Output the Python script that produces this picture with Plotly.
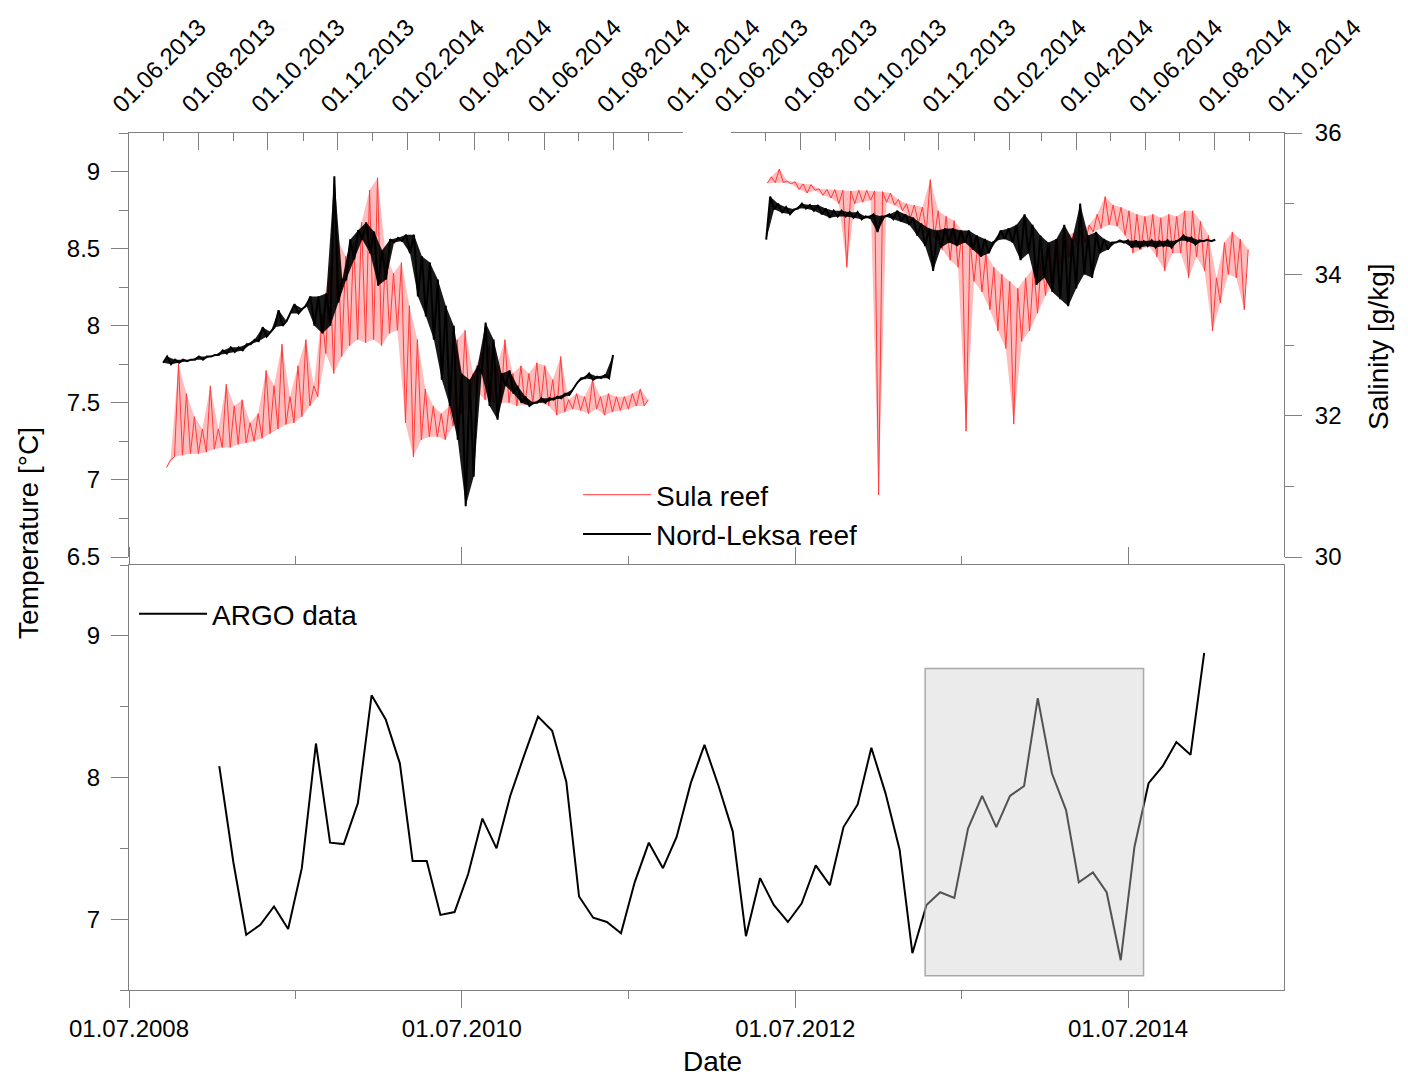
import pandas as pd
import plotly.graph_objects as go

# ---------------- DATA ----------------
# Top panels: weekly low / high envelope of the logger records
SULA_T_START = "2013-07-04"
SULA_T_LO = [7.08,7.15,7.16,7.17,7.17,7.18,7.20,7.21,7.21,7.23,
             7.24,7.25,7.27,7.30,7.33,7.36,7.37,7.41,7.48,7.54,
             7.82,7.69,7.80,7.87,7.91,7.89,7.91,7.87,7.95,7.97,
             7.37,7.15,7.26,7.28,7.28,7.26,7.35,7.43,7.48,7.57,
             7.52,7.50,7.50,7.50,7.48,7.49,7.50,7.50,7.48,7.42,
             7.44,7.46,7.45,7.43,7.46,7.42,7.44,7.45,7.46,7.48,7.48]
SULA_T_HI = [7.13,7.75,7.56,7.41,7.33,7.61,7.33,7.62,7.48,7.52,
             7.37,7.43,7.71,7.61,7.88,7.54,7.74,7.91,7.61,8.08,
             8.39,8.56,8.45,8.54,8.67,8.88,8.96,8.47,8.34,8.41,
             8.13,7.91,7.59,7.48,7.43,7.48,7.91,7.97,7.69,7.82,
             7.87,7.74,7.91,7.69,7.74,7.69,7.76,7.74,7.65,7.80,
             7.52,7.56,7.54,7.65,7.54,7.56,7.54,7.54,7.56,7.59,7.52]

NORD_T_START = "2013-07-01"
NORD_T_LO = [7.76,7.75,7.76,7.77,7.78,7.78,7.80,7.81,7.82,7.83,
             7.84,7.88,7.90,7.93,7.99,8.00,8.08,8.08,8.13,8.00,
             7.95,8.00,8.15,8.30,8.43,8.56,8.47,8.26,8.30,8.54,
             8.55,8.47,8.19,8.06,7.91,7.65,7.48,7.26,6.83,7.02,
             7.69,7.48,7.39,7.61,7.56,7.50,7.48,7.50,7.50,7.52,
             7.53,7.55,7.63,7.66,7.65,7.66,7.66]
NORD_T_HI = [7.80,7.78,7.78,7.78,7.80,7.80,7.81,7.84,7.86,7.86,
             7.88,7.91,7.99,7.96,8.10,8.03,8.14,8.11,8.19,8.19,
             8.21,8.97,8.30,8.56,8.62,8.67,8.61,8.49,8.56,8.57,
             8.59,8.59,8.45,8.41,8.30,8.13,8.00,7.69,7.65,7.74,
             8.02,7.91,7.69,7.71,7.61,7.54,7.50,7.53,7.53,7.54,
             7.56,7.59,7.66,7.69,7.67,7.68,7.81]

SULA_S_START = "2013-07-03"
SULA_S_LO = [35.29,35.30,35.30,35.28,35.20,35.15,35.19,35.12,35.08,35.00,
             34.10,35.00,35.02,35.05,30.88,35.02,34.98,34.90,34.80,34.72,
             34.60,34.52,34.35,34.20,34.10,31.78,33.90,33.75,33.50,33.20,
             32.95,31.88,33.05,33.20,33.45,33.70,33.85,34.10,34.25,34.40,
             34.45,34.60,34.65,34.70,34.68,34.55,34.30,34.35,34.40,34.25,
             34.05,34.30,34.30,33.95,34.25,34.05,33.20,33.60,34.00,33.95,33.50]
SULA_S_HI = [35.38,35.49,35.32,35.31,35.28,35.27,35.21,35.20,35.20,35.19,
             35.18,35.19,35.19,35.18,35.17,35.15,35.06,35.00,34.98,34.95,
             35.34,34.90,34.82,34.76,34.62,34.48,34.45,34.30,34.10,34.00,
             33.90,33.80,33.95,34.10,34.25,34.40,34.50,34.56,34.58,34.62,
             34.70,34.85,35.10,34.98,34.95,34.90,34.85,34.82,34.85,34.80,
             34.85,34.82,34.90,34.90,34.75,34.55,33.95,34.45,34.60,34.50,34.35]

NORD_S_START = "2013-07-02"
NORD_S_LO = [34.49,34.92,34.87,34.85,34.93,34.93,34.90,34.85,34.80,34.82,
             34.82,34.80,34.78,34.80,34.60,34.82,34.78,34.75,34.70,34.55,
             34.40,34.05,34.38,34.45,34.40,34.45,34.35,34.25,34.30,34.48,
             34.50,34.45,34.20,34.30,33.85,33.95,33.75,33.65,33.55,33.80,
             34.00,33.95,34.30,34.35,34.45,34.45,34.38,34.38,34.40,34.38,
             34.40,34.38,34.48,34.47,34.42,34.47,34.47]
NORD_S_HI = [35.10,35.00,34.95,34.92,35.00,34.98,34.98,34.93,34.90,34.90,
             34.88,34.88,34.82,34.85,34.82,34.85,34.90,34.85,34.80,34.72,
             34.65,34.62,34.65,34.65,34.62,34.62,34.55,34.50,34.45,34.62,
             34.65,34.70,34.85,34.70,34.55,34.45,34.50,34.70,34.50,35.00,
             34.55,34.60,34.50,34.45,34.48,34.48,34.48,34.47,34.48,34.47,
             34.48,34.47,34.55,34.52,34.48,34.49,34.49]

# Bottom panel: monthly ARGO temperature, Jan 2009 - Dec 2014
ARGO_START = "2009-01-15"
ARGO_T = [8.08,7.40,6.89,6.96,7.09,6.93,7.36,8.24,7.54,7.53,
          7.82,8.58,8.41,8.10,7.41,7.41,7.03,7.05,7.32,7.71,
          7.50,7.87,8.16,8.43,8.33,7.97,7.16,7.01,6.98,6.90,
          7.26,7.54,7.36,7.58,7.96,8.23,7.94,7.62,6.88,7.29,
          7.10,6.98,7.11,7.38,7.24,7.65,7.81,8.21,7.89,7.49,
          6.76,7.10,7.19,7.15,7.64,7.87,7.65,7.87,7.94,8.56,
          8.03,7.77,7.26,7.33,7.19,6.71,7.51,7.96,8.08,8.25,
          8.16,8.88]

HIGHLIGHT_X = ["2013-04-12", "2014-08-04"]
HIGHLIGHT_Y = [6.6, 8.77]

TOP_RANGE = ["2013-06-01", "2014-10-01"]
BOTTOM_RANGE = ["2008-07-01", "2015-06-08"]

# ---------------- helpers ----------------
def envelope(start, lo, hi):
    t0 = pd.Timestamp(start)
    t_lo = [t0 + pd.Timedelta(hours=168 * i) for i in range(len(lo))]
    t_hi = [t0 + pd.Timedelta(hours=168 * i + 84) for i in range(len(hi))]
    zx, zy = [], []
    for a, b, ta, tb in zip(lo, hi, t_lo, t_hi):
        zx += [ta, tb]
        zy += [a, b]
    band_x = t_lo + t_hi[::-1]
    band_y = list(lo) + list(hi)[::-1]
    return zx, zy, band_x, band_y

RED = "#ff3b3b"
AX = "#808080"
FONT = "Liberation Sans, Arial, sans-serif"

# page body has an 8px margin: work in screen pixels and convert
OFF = 8
W, H = 1400, 1072
def px(x):
    return (x - OFF) / W
def py(y):
    return 1 - (y - OFF) / H

fig = go.Figure()

def add_series(start, lo, hi, color, width, fillcolor, name, xa, ya, legend=None, showlegend=True):
    zx, zy, bx, by = envelope(start, lo, hi)
    fig.add_trace(go.Scatter(x=bx, y=by, mode="lines", fill="toself", fillcolor=fillcolor,
                             line=dict(width=0), hoverinfo="skip", showlegend=False,
                             xaxis=xa, yaxis=ya))
    kw = dict(legend=legend) if legend else {}
    fig.add_trace(go.Scatter(x=zx, y=zy, mode="lines", line=dict(color=color, width=width),
                             name=name, xaxis=xa, yaxis=ya, showlegend=showlegend, **kw))

add_series(SULA_T_START, SULA_T_LO, SULA_T_HI, RED, 1, "rgba(255,70,70,0.36)",
           "Sula reef", "x2", "y2", legend="legend")
add_series(NORD_T_START, NORD_T_LO, NORD_T_HI, "black", 2, "rgba(0,0,0,0.9)",
           "Nord-Leksa reef", "x2", "y2", legend="legend")
add_series(SULA_S_START, SULA_S_LO, SULA_S_HI, RED, 1, "rgba(255,70,70,0.36)",
           "Sula reef", "x3", "y3", showlegend=False)
add_series(NORD_S_START, NORD_S_LO, NORD_S_HI, "black", 2, "rgba(0,0,0,0.9)",
           "Nord-Leksa reef", "x3", "y3", showlegend=False)

argo_dates = pd.date_range("2009-01-01", periods=len(ARGO_T), freq="MS") + pd.Timedelta(days=14)
fig.add_trace(go.Scatter(x=argo_dates, y=ARGO_T, mode="lines", line=dict(color="black", width=2),
                         name="ARGO data", xaxis="x", yaxis="y", legend="legend2"))

tickfont = dict(family=FONT, size=24, color="black")
L, R = px(129), px(1284)
TL_R = px(683)
TR_L = px(731)
TOP_D = [py(557), py(133)]
BOT_D = [py(990), py(565)]

common = dict(showgrid=False, zeroline=False, automargin=False, tickfont=tickfont,
              tickcolor=AX, tickwidth=1, showline=True, linecolor=AX, linewidth=1)

top_x_common = dict(type="date", side="top", range=TOP_RANGE, tick0="2013-06-01", dtick="M2",
                    tickformat="%d.%m.%Y", tickangle=-45, ticks="inside", ticklen=17,
                    ticklabelshift=-15, ticklabelstandoff=5,
                    minor=dict(dtick="M1", tick0="2013-06-01", ticks="inside", ticklen=8,
                               tickcolor=AX, showgrid=False), **common)

fig.update_layout(
    template="none",
    width=W, height=H, margin=dict(l=0, r=0, t=0, b=0, autoexpand=False),
    paper_bgcolor="white", plot_bgcolor="rgba(0,0,0,0)",
    font=dict(family=FONT, size=24, color="black"),
    xaxis=dict(domain=[L, R], anchor="y", type="date", range=BOTTOM_RANGE,
               tick0="2008-07-01", dtick="M24", tickformat="%d.%m.%Y",
               ticks="outside", ticklen=17, mirror="allticks", ticklabelstandoff=0,
               minor=dict(dtick="M12", tick0="2008-07-01", ticks="outside", ticklen=8,
                          tickcolor=AX, showgrid=False), **common),
    yaxis=dict(domain=BOT_D, anchor="x", range=[6.5, 9.5], tickmode="array",
               tickvals=[7, 8, 9], ticks="outside", ticklen=17, mirror=True,
               ticklabelstandoff=6,
               minor=dict(tickvals=[6.5, 7.5, 8.5, 9.5], ticks="outside", ticklen=8,
                          tickcolor=AX, showgrid=False), **common),
    xaxis2=dict(domain=[L, TL_R], anchor="y2", **top_x_common),
    yaxis2=dict(domain=TOP_D, anchor="x2", range=[6.5, 9.25], tick0=6.5, dtick=0.5,
                ticks="outside", ticklen=17, ticklabelstandoff=6,
                minor=dict(dtick=0.25, tick0=6.5, ticks="outside", ticklen=9,
                           tickcolor=AX, showgrid=False), **common),
    xaxis3=dict(domain=[TR_L, R], anchor="y3", **top_x_common),
    yaxis3=dict(domain=TOP_D, anchor="x3", side="right", range=[30, 36], tick0=30, dtick=2,
                ticks="outside", ticklen=17, ticklabelstandoff=8,
                minor=dict(dtick=1, tick0=30, ticks="outside", ticklen=9,
                           tickcolor=AX, showgrid=False), **common),
    legend=dict(x=px(570 + OFF), y=py(462 + OFF), xanchor="left", yanchor="top",
                bgcolor="rgba(0,0,0,0)", font=dict(family=FONT, size=28, color="black"),
                itemwidth=68, tracegroupgap=0),
    legend2=dict(x=px(126 + OFF), y=py(581 + OFF), xanchor="left", yanchor="top",
                 bgcolor="rgba(0,0,0,0)", font=dict(family=FONT, size=28, color="black"),
                 itemwidth=68),
    showlegend=True,
)

fig.add_shape(type="rect", xref="x", yref="y", x0=HIGHLIGHT_X[0], x1=HIGHLIGHT_X[1],
              y0=HIGHLIGHT_Y[0], y1=HIGHLIGHT_Y[1], layer="above",
              fillcolor="rgba(205,205,205,0.4)", line=dict(color="rgba(150,150,150,0.8)", width=1.5))

title_font = dict(family=FONT, size=28, color="black")
fig.add_annotation(text="Temperature [°C]", xref="paper", yref="paper", x=px(28), y=py(533),
                   xanchor="center", yanchor="middle", textangle=-90, showarrow=False,
                   font=title_font)
fig.add_annotation(text="Salinity [g/kg]", xref="paper", yref="paper", x=px(1378), y=py(347),
                   xanchor="center", yanchor="middle", textangle=-90, showarrow=False,
                   font=title_font)
fig.add_annotation(text="Date", xref="paper", yref="paper", x=px(712), y=py(1061),
                   xanchor="center", yanchor="middle", showarrow=False, font=title_font)

fig.write_html("out.html")
